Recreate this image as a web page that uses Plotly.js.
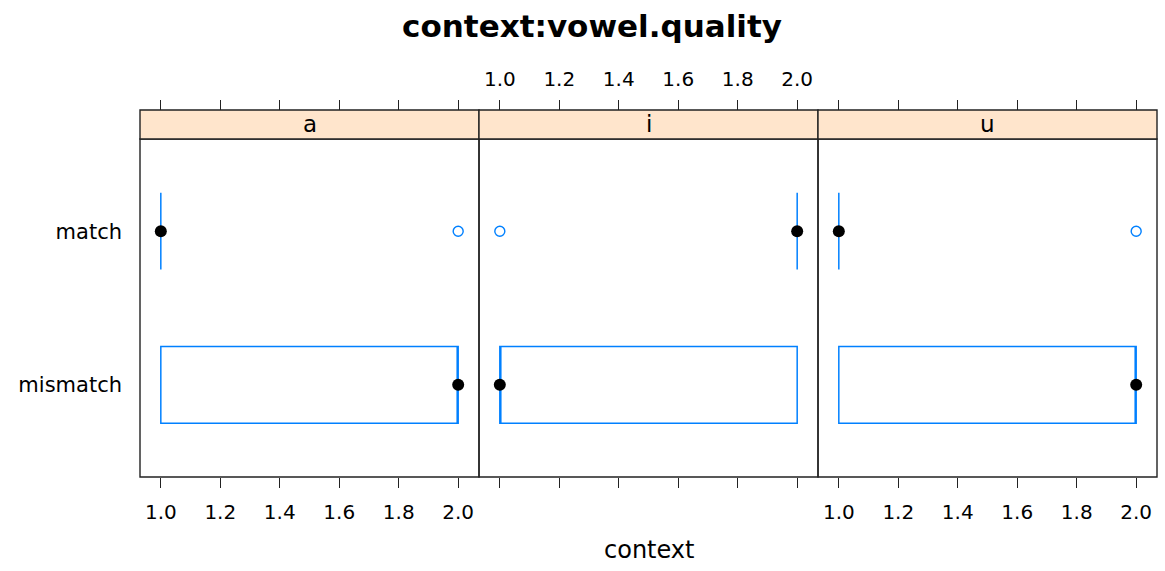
<!DOCTYPE html>
<html>
<head>
<meta charset="utf-8">
<script src="https://cdn.plot.ly/plotly-3.0.1.min.js"></script>
<style>html,body{margin:0;padding:0;background:#fff;}#chart{width:1165px;height:571px;}</style>
</head>
<body>
<div id="chart"></div>
<script>
// ---- data ----
var panels = ["a", "i", "u"];
var categories = ["mismatch", "match"];      // y levels 1, 2
var catPos = [1, 2];
// box statistics per panel, ordered as categories
var q1Vals      = [[1, 1], [1, 2], [1, 1]];
var medianVals  = [[2, 1], [1, 2], [2, 1]];
var q3Vals      = [[2, 1], [2, 2], [2, 1]];
// outliers per panel: x values and their category position
var outlierX    = [[2], [1], [2]];
var outlierY    = [[2], [2], [2]];
var tickVals    = [1.0, 1.2, 1.4, 1.6, 1.8, 2.0];
var tickText    = ["1.0", "1.2", "1.4", "1.6", "1.8", "2.0"];
var xRange      = [0.93, 2.07];
var yRange      = [0.4, 2.6];

var BLUE = "#0080ff";
var FONT = "DejaVu Sans";
var stripTop = 1, stripBot = 338 / 367;

var traces = [];
var shapes = [];
var annotations = [];
var layout = {
  width: 1165, height: 571,
  margin: {l: 140, r: 8, t: 110, b: 94},
  paper_bgcolor: "#fff", plot_bgcolor: "#fff",
  showlegend: false,
  hovermode: false,
  font: {family: FONT, color: "#000"},
  title: {text: "context:vowel.quality", font: {family: FONT, size: 31, weight: "bold", color: "#000"},
          x: 592 / 1165, xanchor: "center", y: 1 - 26 / 571, yanchor: "middle", yref: "container", xref: "container"},
  yaxis: {range: yRange, domain: [0, stripBot], tickvals: catPos, ticktext: categories,
          ticks: "", showgrid: false, zeroline: false, showline: false,
          tickfont: {family: FONT, size: 21, color: "#000"}, ticklabelstandoff: 17, anchor: "x"},
  shapes: shapes, annotations: annotations
};

panels.forEach(function (p, k) {
  var n = k + 1;
  var xa = n === 1 ? "x" : "x" + n;
  var xaKey = n === 1 ? "xaxis" : "xaxis" + n;
  var topN = n + 3;
  var dom = [k / 3, (k + 1) / 3];
  var showBottom = (k !== 1);
  layout[xaKey] = {
    domain: dom, range: xRange, anchor: "y", side: "bottom",
    tickvals: tickVals, ticktext: tickText, showticklabels: showBottom,
    ticks: "outside", ticklen: 10, tickwidth: 1.2, tickcolor: "#222",
    showgrid: false, zeroline: false, showline: false,
    tickfont: {family: FONT, size: 20, color: "#000"}, ticklabelstandoff: 7
  };
  layout["xaxis" + topN] = {
    domain: dom, range: xRange, anchor: "free", position: 1, overlaying: xa, side: "top",
    tickvals: tickVals, ticktext: tickText, showticklabels: (k === 1),
    ticks: "outside", ticklen: 10, tickwidth: 1.2, tickcolor: "#222",
    showgrid: false, zeroline: false, showline: false,
    tickfont: {family: FONT, size: 20, color: "#000"}, ticklabelstandoff: 6
  };
  traces.push({type: "scatter", x: [null], y: [null], xaxis: "x" + topN, yaxis: "y",
               mode: "markers", hoverinfo: "skip"});

  // boxes
  traces.push({
    type: "box", orientation: "h", xaxis: xa, yaxis: "y",
    y: catPos, q1: q1Vals[k], median: medianVals[k], q3: q3Vals[k],
    lowerfence: q1Vals[k], upperfence: q3Vals[k],
    width: 0.5, whiskerwidth: 0, boxpoints: false,
    line: {color: BLUE, width: 1.5}, fillcolor: "rgba(0,0,0,0)", hoverinfo: "skip"
  });
  // outliers
  traces.push({
    type: "scatter", mode: "markers", xaxis: xa, yaxis: "y",
    x: outlierX[k], y: outlierY[k],
    marker: {symbol: "circle-open", size: 10, color: BLUE, line: {width: 1.4, color: BLUE}},
    hoverinfo: "skip"
  });
  // medians (dots)
  traces.push({
    type: "scatter", mode: "markers", xaxis: xa, yaxis: "y",
    x: medianVals[k], y: catPos,
    marker: {symbol: "circle", size: 12, color: "#000"},
    hoverinfo: "skip"
  });

  // panel border
  shapes.push({type: "rect", xref: xa + " domain", yref: "y domain", x0: 0, x1: 1, y0: 0, y1: 1,
               line: {color: "#222", width: 1.4}, fillcolor: "rgba(0,0,0,0)"});
  // strip
  shapes.push({type: "rect", xref: xa + " domain", yref: "paper", x0: 0, x1: 1, y0: stripBot, y1: stripTop,
               line: {color: "#222", width: 1.4}, fillcolor: "#ffe5cc"});
  annotations.push({text: p, xref: xa + " domain", yref: "paper", x: 0.5, y: (stripBot + stripTop) / 2,
                    xanchor: "center", yanchor: "middle", showarrow: false,
                    font: {family: FONT, size: 23, color: "#000"}});
});

annotations.push({text: "context", xref: "paper", yref: "paper", x: 0.5, y: -73 / 367,
                  xanchor: "center", yanchor: "middle", showarrow: false,
                  font: {family: FONT, size: 24, color: "#000"}});

Plotly.newPlot("chart", traces, layout, {staticPlot: true, displayModeBar: false});
</script>
</body>
</html>
